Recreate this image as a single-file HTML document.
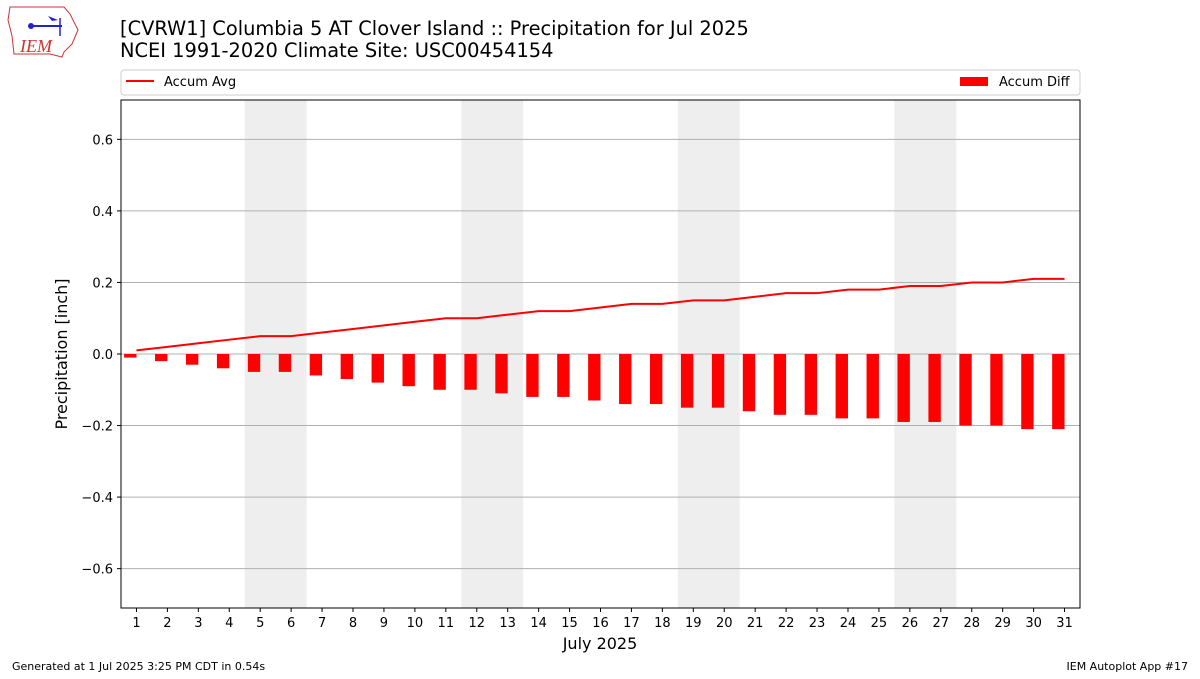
<!DOCTYPE html>
<html><head><meta charset="utf-8"><style>
body{margin:0;background:#fff;font-family:"DejaVu Sans","Liberation Sans",sans-serif;}
</style></head><body>
<svg id="chart" width="1200" height="675" xmlns="http://www.w3.org/2000/svg" font-family="DejaVu Sans, Liberation Sans, sans-serif">
<g>
<path d="M10,7 L64,7 L70,14 L78,30 L72,44 L64,52 L62,57 L50,54 L14,54 L12,36 L8,20 Z" fill="none" stroke="#c33" stroke-width="1"/>
<line x1="30" y1="26" x2="62" y2="26" stroke="#22c" stroke-width="2"/>
<line x1="60" y1="18" x2="60" y2="36" stroke="#22c" stroke-width="1.5"/>
<circle cx="31" cy="26" r="3" fill="#22c"/>
<path d="M48,16 L58,20 L52,21 Z" fill="#22c"/>
<text x="20" y="52" font-family="Liberation Serif, serif" font-style="italic" font-size="18" fill="#c33">IEM</text>
</g>
<text x="120" y="35" font-size="19.4">[CVRW1] Columbia 5 AT Clover Island :: Precipitation for Jul 2025</text>
<text x="120" y="57" font-size="19.4">NCEI 1991-2020 Climate Site: USC00454154</text>
<g>
<rect x="121" y="70" width="959" height="25" rx="3" fill="#fff" stroke="#ccc"/>
<line x1="126" y1="81" x2="154" y2="81" stroke="red" stroke-width="2"/>
<text x="164" y="86" font-size="13">Accum Avg</text>
<rect x="960" y="77" width="28" height="9" fill="red"/>
<text x="999" y="86" font-size="13">Accum Diff</text>
</g>
<g id="plot"></g>
<text x="600" y="649" font-size="16" text-anchor="middle">July 2025</text>
<text transform="translate(67,354) rotate(-90)" font-size="16" text-anchor="middle">Precipitation [inch]</text>
<text x="12" y="670" font-size="11">Generated at 1 Jul 2025 3:25 PM CDT in 0.54s</text>
<text x="1188" y="670" font-size="11" text-anchor="end">IEM Autoplot App #17</text>
</svg>
<script>
const days=[1,2,3,4,5,6,7,8,9,10,11,12,13,14,15,16,17,18,19,20,21,22,23,24,25,26,27,28,29,30,31];
const accumAvg=[0.01,0.02,0.03,0.04,0.05,0.05,0.06,0.07,0.08,0.09,0.10,0.10,0.11,0.12,0.12,0.13,0.14,0.14,0.15,0.15,0.16,0.17,0.17,0.18,0.18,0.19,0.19,0.20,0.20,0.21,0.21];
const accumDiff=[-0.01,-0.02,-0.03,-0.04,-0.05,-0.05,-0.06,-0.07,-0.08,-0.09,-0.10,-0.10,-0.11,-0.12,-0.12,-0.13,-0.14,-0.14,-0.15,-0.15,-0.16,-0.17,-0.17,-0.18,-0.18,-0.19,-0.19,-0.20,-0.20,-0.21,-0.21];
const weekendStarts=[5,12,19,26];
const yTicks=[-0.6,-0.4,-0.2,0.0,0.2,0.4,0.6];
const yTickLabels=["\u22120.6","\u22120.4","\u22120.2","0.0","0.2","0.4","0.6"];
const L=121,R=1080,T=100,B=608,ymin=-0.71,ymax=0.71,xmin=0.5,xmax=31.5;
const sx=v=>L+(v-xmin)/(xmax-xmin)*(R-L);
const sy=v=>B-(v-ymin)/(ymax-ymin)*(B-T);
const NS="http://www.w3.org/2000/svg";
const g=document.getElementById('plot');
function mk(t,a,p){const e=document.createElementNS(NS,t);for(const k in a)e.setAttribute(k,a[k]);(p||g).appendChild(e);return e;}
weekendStarts.forEach(d=>{
 const r=mk('rect',{x:sx(d-0.5),y:T,width:sx(d+1.5)-sx(d-0.5),height:B-T,fill:'#eee'});
 
 
});
yTicks.forEach((v,i)=>{
 const l=mk('line',{x1:L,x2:R,y1:sy(v),y2:sy(v),stroke:'#b0b0b0','stroke-width':1});
 
 
 mk('line',{x1:L-4,x2:L,y1:sy(v),y2:sy(v),stroke:'#000'});
 const t=mk('text',{x:L-8,y:sy(v)+5,'font-size':13,'text-anchor':'end'});
 t.textContent=yTickLabels[i];
 
 
});
days.forEach((d,i)=>{
 const v=accumDiff[i];
 const b=mk('rect',{x:sx(d-0.4),y:Math.min(sy(v),sy(0)),width:sx(d)-sx(d-0.4),height:Math.abs(sy(v)-sy(0)),fill:'red'});
 
 
 mk('line',{x1:sx(d),x2:sx(d),y1:B,y2:B+4,stroke:'#000'});
 const t=mk('text',{x:sx(d),y:B+19,'font-size':13,'text-anchor':'middle'});
 t.textContent=d;
 
 
});
const pl=mk('polyline',{points:days.map((d,i)=>sx(d)+','+sy(accumAvg[i])).join(' '),fill:'none',stroke:'red','stroke-width':2});


const fr=mk('rect',{x:L,y:T,width:R-L,height:B-T,fill:'none',stroke:'#000','stroke-width':1});


</script>
</body></html>
